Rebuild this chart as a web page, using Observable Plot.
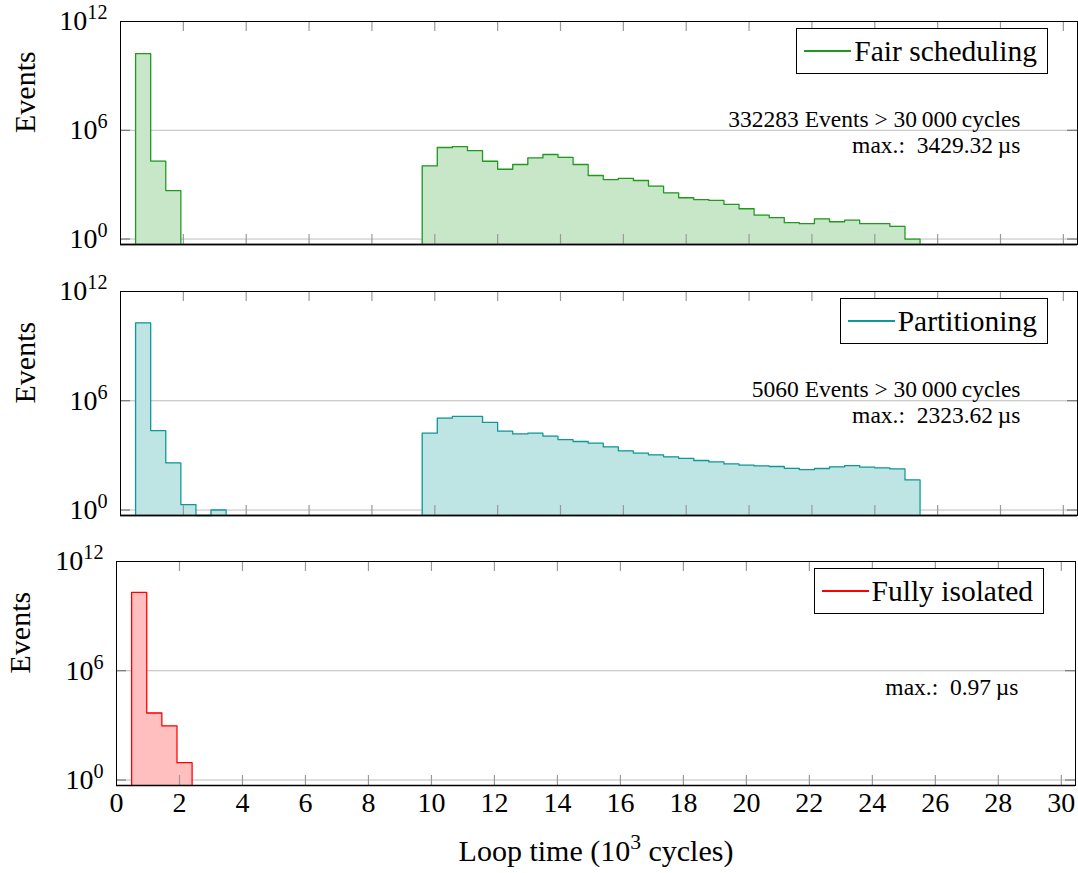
<!DOCTYPE html>
<html><head><meta charset="utf-8">
<script src="https://cdn.jsdelivr.net/npm/d3@7"></script>
<script src="https://cdn.jsdelivr.net/npm/@observablehq/plot@0.6"></script>
<style>
body{margin:0;background:#fff;}
#root{position:relative;width:1078px;height:873px;font-family:"Liberation Serif",serif;overflow:hidden;}
.panel{position:absolute;left:0;}
.legend{position:absolute;border:1px solid #000;background:#fff;display:flex;align-items:center;font-size:29.5px;box-sizing:border-box;height:46px;padding-right:10px;color:#000;}
.legend .sw{display:inline-block;width:47px;height:1.4px;margin:0 3px 0 7px;}
</style></head>
<body><div id="root"></div>
<script>
// ---- data ----
const binWidth = 0.48;                 // bin width in 10^3 cycles
const xTicks = [0,2,4,6,8,10,12,14,16,18,20,22,24,26,28,30];
const yTicks = [1, 1e6, 1e12];
const yGrid = [1, 1e6];
const xMax = 30.45;
const yMin = 0.5, yMax = 1e12;

const panelNames = ["Fair scheduling", "Partitioning", "Fully isolated"];
const strokeColors = ["#1f9a1f", "#109898", "#ff0000"];
const fillColors = ["#c8e6c8", "#bfe4e4", "#ffbfbf"];
const overThreshold = ["332283 Events > 30\u2009000\u2009cycles", "5060 Events > 30\u2009000\u2009cycles", ""];
const maxLatency = ["max.:  3429.32\u2009\u00b5s", "max.:  2323.62\u2009\u00b5s", "max.:  0.97\u2009\u00b5s"];

// Fair scheduling
const fairLowStart = 0.48;
const fairLow = [1.7e10, 2.0e4, 470];
const fairHighStart = 9.6;
const fairHigh = [11000, 112000, 126000, 76000, 19500, 7100, 12900, 30000, 46000, 32000, 12900,
  3200, 1900, 2200, 1700, 830, 355, 190, 150, 135, 81, 47, 21, 15, 8, 7, 13, 9, 11, 7, 7, 5, 1];

// Partitioning
const partLowStart = 0.48;
const partLow = [1.9e10, 2.3e4, 390, 2, 0, 1];
const partHighStart = 9.6;
const partHigh = [16600, 112000, 138000, 138000, 65000, 21400, 15100, 16600, 11500, 7400, 5800,
  4700, 2950, 1780, 1320, 1070, 830, 680, 525, 440, 340, 290, 265, 245, 195, 165, 190, 235, 275,
  225, 205, 180, 45];

// Fully isolated
const isoLowStart = 0.48;
const isoLow = [2.0e10, 4800, 950, 9];

// ---- helpers ----
function steps(start, counts, run) {
  const pts = [{x: start, y: yMin, run}];
  counts.forEach((c, i) => pts.push({x: start + i * binWidth, y: Math.max(c, yMin), run}));
  const end = start + counts.length * binWidth;
  pts.push({x: end, y: Math.max(counts[counts.length - 1], yMin), run});
  pts.push({x: end, y: yMin, run});
  return pts;
}

const series = [
  [...steps(fairLowStart, fairLow, "a"), ...steps(fairHighStart, fairHigh, "b")],
  [...steps(partLowStart, partLow, "a"), ...steps(partHighStart, partHigh, "b")],
  [...steps(isoLowStart, isoLow, "a")]
];

const geom = [
  {top: 0, height: 270, mt: 21, mb: 26, ml: 120, mr: 1, legendTop: 28, legendRight: 30},
  {top: 270, height: 270, mt: 21, mb: 25, ml: 120, mr: 1, legendTop: 298, legendRight: 30},
  {top: 540, height: 333, mt: 21, mb: 88, ml: 116, mr: 3, legendTop: 568, legendRight: 34}
];

function supify(svg) {
  svg.querySelectorAll("text").forEach(t => {
    const s = t.textContent;
    if (!s.includes("^")) return;
    const parts = s.split(/\^\{([^}]*)\}/);
    while (t.firstChild) t.removeChild(t.firstChild);
    parts.forEach((p, k) => {
      if (!p) return;
      const ts = document.createElementNS("http://www.w3.org/2000/svg", "tspan");
      ts.textContent = p;
      if (k % 2 === 1) {
        ts.setAttribute("font-size", "72%");
        ts.setAttribute("baseline-shift", "55%");
      }
      t.appendChild(ts);
    });
  });
}

const root = document.getElementById("root");
const font = "'Liberation Serif', serif";

series.forEach((pts, i) => {
  const g = geom[i];
  const plotH = g.height - g.mt - g.mb;
  const plotW = 1078 - g.ml - g.mr;
  const last = i === 2;
  const marks = [
    Plot.ruleY(yGrid, {y: d => d, stroke: "#bdbdbd", strokeWidth: 1}),
    Plot.areaY(pts, {x: "x", y1: () => yMin, y2: "y", z: "run", curve: "step-after", fill: fillColors[i]}),
    Plot.line(pts, {x: "x", y: "y", z: "run", curve: "step-after", stroke: strokeColors[i], strokeWidth: 1.3}),
    Plot.tickX(xTicks.slice(1), {x: d => d, stroke: "#9a9a9a", strokeWidth: 1.2, insetBottom: plotH - 10}),
    Plot.tickX(xTicks.slice(1), {x: d => d, stroke: "#9a9a9a", strokeWidth: 1.2, insetTop: plotH - 10}),
    Plot.tickY(yGrid, {y: d => d, stroke: "#666", strokeWidth: 1, insetRight: plotW - 10}),
    Plot.tickY(yGrid, {y: d => d, stroke: "#666", strokeWidth: 1, insetLeft: plotW - 10}),
    Plot.ruleY([yMin], {y: d => d, stroke: last ? "#000" : "#333", strokeWidth: last ? 1.4 : 2}),
    Plot.frame({stroke: "#000", strokeWidth: 1}),
    Plot.axisY({ticks: yTicks, tickSize: 0, tickPadding: 13, fontSize: 28, label: null,
      tickFormat: d => "10^{" + Math.round(Math.log10(d)) + "}"}),
    Plot.text(["Events"], {text: d => d, frameAnchor: "left", rotate: -90, dx: last ? -96 : -95, fontSize: 30}),
    Plot.text([maxLatency[i]], {text: d => d, frameAnchor: "top-right", textAnchor: "end", lineAnchor: "bottom",
      dx: -57, dy: last ? 133 : 131, fontSize: 23.5})
  ];
  if (overThreshold[i]) {
    marks.push(Plot.text([overThreshold[i]], {text: d => d, frameAnchor: "top-right", textAnchor: "end", lineAnchor: "bottom",
      dx: -57, dy: 105, fontSize: 23.5}));
  }
  if (last) {
    marks.push(Plot.axisX({ticks: xTicks, tickSize: 0, tickPadding: 7, fontSize: 28, label: null}));
    marks.push(Plot.text(["Loop time (10^{3} cycles)"], {text: d => d, frameAnchor: "bottom", dy: 75, fontSize: 30}));
  }
  const svg = Plot.plot({
    width: 1078, height: g.height,
    marginTop: g.mt, marginBottom: g.mb, marginLeft: g.ml, marginRight: g.mr,
    style: {fontFamily: font, fontSize: "27px", color: "#000", background: "transparent", overflow: "visible"},
    x: {domain: [0, xMax], axis: null},
    y: {type: "log", domain: [yMin, yMax], axis: null},
    marks
  });
  supify(svg);
  svg.classList.add("panel");
  svg.style.position = "absolute";
  svg.style.top = g.top + "px";
  svg.style.left = "0px";
  root.appendChild(svg);

  const lg = document.createElement("div");
  lg.className = "legend";
  lg.style.top = g.legendTop + "px";
  lg.style.right = g.legendRight + "px";
  const sw = document.createElement("span");
  sw.className = "sw";
  sw.style.backgroundColor = strokeColors[i];
  lg.appendChild(sw);
  lg.appendChild(document.createTextNode(panelNames[i]));
  root.appendChild(lg);
});
</script>
</body></html>
